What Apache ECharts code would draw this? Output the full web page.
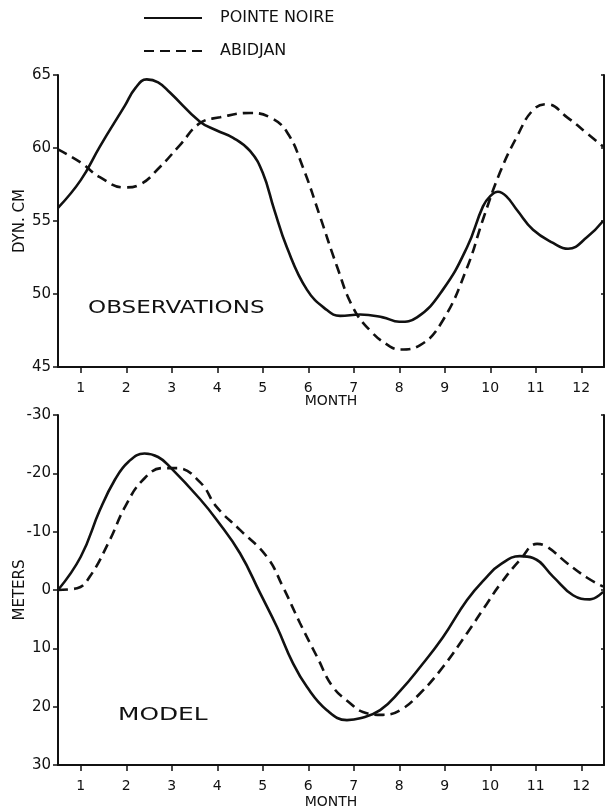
<!DOCTYPE html>
<html>
<head>
<meta charset="utf-8">
<script src="https://cdn.jsdelivr.net/npm/echarts@6/dist/echarts.min.js"></script>
<style>
  html, body { margin: 0; padding: 0; background: #fff; }
  #chart { width: 607px; height: 812px; }
</style>
</head>
<body>
<div id="chart"></div>
<script>
// Month tick labels shared by both panels
const months = [1, 2, 3, 4, 5, 6, 7, 8, 9, 10, 11, 12];

// Observed dynamic height (dyn. cm): [month, value]
const obsPointeNoire = [
  [0.5, 55.9], [1.0, 57.8], [1.42, 60.1], [1.97, 62.9], [2.2, 64.1], [2.45, 64.7],
  [2.7, 64.5], [2.96, 63.8], [3.62, 61.8], [3.99, 61.2], [4.35, 60.7], [4.72, 59.8],
  [5.0, 58.3], [5.25, 55.8], [5.53, 53.2], [5.97, 50.3], [6.41, 48.9], [6.7, 48.5],
  [7.14, 48.6], [7.64, 48.4], [8.0, 48.1], [8.39, 48.4], [8.96, 50.3], [9.49, 53.2],
  [9.84, 56.0], [10.0, 56.7], [10.17, 57.0], [10.35, 56.7], [10.6, 55.7], [10.94, 54.4],
  [11.38, 53.5], [11.71, 53.1], [12.13, 53.9], [12.48, 55.0]
];
const obsAbidjan = [
  [0.5, 59.9], [1.0, 59.0], [1.42, 58.0], [1.97, 57.3], [2.3, 57.5], [2.74, 58.7],
  [3.18, 60.2], [3.62, 61.7], [4.06, 62.1], [4.72, 62.4], [5.16, 62.1], [5.53, 61.1],
  [5.88, 58.7], [6.26, 55.3], [6.63, 51.9], [6.98, 49.1], [7.36, 47.5], [7.8, 46.4],
  [8.02, 46.2], [8.46, 46.5], [8.96, 48.2], [9.49, 51.8], [9.84, 55.1], [10.21, 58.3],
  [10.59, 60.8], [10.94, 62.6], [11.25, 63.0], [11.69, 62.1], [12.13, 61.0], [12.48, 60.1]
];

// Model thermocline displacement (meters, positive downward): [month, value]
const modelPointeNoire = [
  [0.5, 0.0], [1.0, -5.7], [1.42, -13.7], [1.75, -18.9], [2.05, -22.0], [2.4, -23.4],
  [2.7, -22.8], [2.96, -21.1], [3.62, -15.6], [3.99, -12.0], [4.5, -6.3], [4.94, 0.5],
  [5.31, 6.3], [5.66, 12.5], [5.97, 16.6], [6.41, 20.6], [6.85, 22.3], [7.14, 22.0],
  [7.58, 20.6], [8.02, 17.3], [8.46, 13.2], [8.96, 8.1], [9.49, 1.7], [9.93, -2.3],
  [10.21, -4.3], [10.65, -5.8], [10.94, -5.5], [11.38, -2.3], [11.82, 0.9], [12.19, 1.6],
  [12.48, 0.3]
];
const modelAbidjan = [
  [0.5, 0.0], [0.92, -0.3], [1.2, -2.3], [1.64, -8.6], [1.97, -14.2], [2.37, -18.9],
  [2.81, -20.9], [3.11, -20.9], [3.62, -18.5], [3.99, -14.2], [4.5, -10.3], [5.09, -5.7],
  [5.44, -0.6], [5.82, 5.7], [6.19, 11.4], [6.54, 16.6], [6.92, 19.4], [7.2, 20.9],
  [7.64, 21.4], [8.02, 20.6], [8.46, 17.7], [8.96, 13.2], [9.49, 7.4], [9.93, 2.3],
  [10.21, -0.9], [10.65, -5.1], [11.03, -7.9], [11.25, -7.4], [11.69, -4.6],
  [12.13, -2.1], [12.48, -0.6]
];

const FONT = 'DejaVu Sans';
const INK = '#111';

const chart = echarts.init(document.getElementById('chart'), null, { renderer: 'canvas' });

function xAxisFor(gridIndex, gap) {
  return {
    type: 'value', gridIndex: gridIndex, min: 0.5, max: 12.5,
    name: 'MONTH', nameLocation: 'middle', nameGap: gap, nameMoveOverlap: false,
    nameTextStyle: { fontFamily: FONT, fontSize: 14, color: INK },
    axisLine: { show: true, onZero: false, lineStyle: { color: INK, width: 2 } },
    axisTick: { show: true, length: 6, lineStyle: { color: INK, width: 1.5 }, customValues: months },
    axisLabel: { fontFamily: FONT, fontSize: 14, color: INK, margin: 14, customValues: months },
    splitLine: { show: false }
  };
}

function leftAxis(gridIndex, min, max, step, name, inverse) {
  return {
    type: 'value', gridIndex: gridIndex, position: 'left', min: min, max: max, interval: step,
    inverse: inverse,
    name: name, nameLocation: 'middle', nameGap: 30, nameRotate: 90, nameMoveOverlap: false,
    nameTextStyle: { fontFamily: FONT, fontSize: 15, color: INK },
    axisLine: { show: true, onZero: false, lineStyle: { color: INK, width: 2 } },
    axisTick: { show: true, length: 5, lineStyle: { color: INK, width: 1.5 } },
    axisLabel: { fontFamily: FONT, fontSize: 15, color: INK, margin: 7 },
    splitLine: { show: false }
  };
}

function rightAxis(gridIndex, min, max, step, inverse) {
  return {
    type: 'value', gridIndex: gridIndex, position: 'right', min: min, max: max, interval: step,
    inverse: inverse,
    axisLine: { show: true, onZero: false, lineStyle: { color: INK, width: 2 } },
    axisTick: { show: true, inside: true, length: 3, lineStyle: { color: INK, width: 1.5 } },
    axisLabel: { show: false },
    splitLine: { show: false }
  };
}

const solid = { color: INK, width: 2.6, type: 'solid' };
const dashed = { color: INK, width: 2.6, type: [10, 6] };

function curve(name, xi, yi, data, style) {
  return {
    name: name, type: 'line', xAxisIndex: xi, yAxisIndex: yi, data: data,
    smooth: 0.45, symbol: 'none', lineStyle: style, itemStyle: { color: INK }
  };
}

chart.setOption({
  animation: false,
  backgroundColor: '#fff',
  legend: {
    orient: 'vertical', left: 138, top: 5,
    itemWidth: 58, itemHeight: 16, itemGap: 17,
    data: ['POINTE NOIRE', 'ABIDJAN'],
    itemStyle: { opacity: 0 },
    textStyle: { fontFamily: FONT, fontSize: 16, color: INK, padding: [0, 0, 0, 13] },
    selectedMode: false
  },
  grid: [
    { left: 58, top: 75, width: 546, height: 292, outerBoundsMode: 'none', containLabel: false },
    { left: 58, top: 415, width: 546, height: 350, outerBoundsMode: 'none', containLabel: false }
  ],
  xAxis: [xAxisFor(0, 27), xAxisFor(1, 30)],
  yAxis: [
    leftAxis(0, 45, 65, 5, 'DYN. CM', false),
    rightAxis(0, 45, 65, 5, false),
    leftAxis(1, -30, 30, 10, 'METERS', true),
    rightAxis(1, -30, 30, 10, true)
  ],
  graphic: [
    { type: 'text', x: 88, y: 299, scaleX: 1.28,
      style: { text: 'OBSERVATIONS', fontFamily: FONT, fontSize: 18, fill: INK } },
    { type: 'text', x: 118, y: 706, scaleX: 1.38,
      style: { text: 'MODEL', fontFamily: FONT, fontSize: 18, fill: INK } }
  ],
  series: [
    curve('POINTE NOIRE', 0, 0, obsPointeNoire, solid),
    curve('ABIDJAN', 0, 0, obsAbidjan, dashed),
    curve('POINTE NOIRE', 1, 2, modelPointeNoire, solid),
    curve('ABIDJAN', 1, 2, modelAbidjan, dashed)
  ]
});
</script>
</body>
</html>
